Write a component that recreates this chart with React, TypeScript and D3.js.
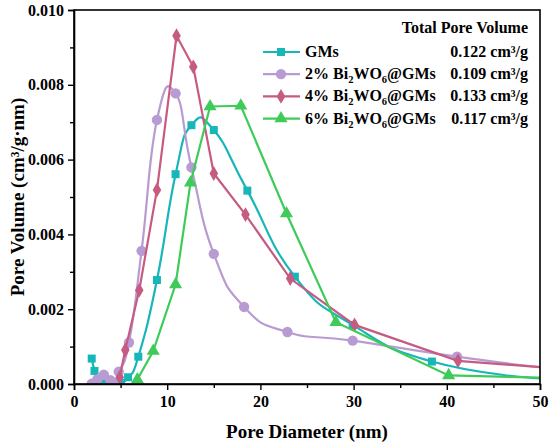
import React, { useEffect, useRef } from "react";
import * as d3 from "d3";

// pore diameter (nm) / pore volume (cm3/g·nm)
const gmsX = [1.9, 2.2, 2.5, 3.3, 4.2, 5.0, 5.8, 6.9, 8.9, 10.9, 12.6, 15.0, 18.6, 23.7, 29.9, 38.4, 50];
const gmsY = [0.00068, 0.00035, 0.00008, 0.00002, 0.00001, 0.00003, 0.00018, 0.00073, 0.00278, 0.00561, 0.00692, 0.00679, 0.00517, 0.00287, 0.00158, 0.0006, 0.00015];

const bi2X = [1.9, 2.5, 3.2, 3.9, 4.4, 4.8, 5.9, 7.25, 8.9, 10.9, 12.6, 15.0, 18.25, 22.9, 29.9, 41.1, 50];
const bi2Y = [0.00001, 0.00012, 0.00025, 0.0001, 0.00003, 0.00033, 0.00111, 0.00356, 0.00706, 0.00777, 0.00579, 0.00348, 0.00206, 0.00139, 0.00116, 0.00073, 0.00045];

const bi4X = [4.9, 5.5, 7.0, 8.9, 11.0, 12.8, 15.0, 18.4, 23.2, 30.1, 41.2, 50];
const bi4Y = [0.00018, 0.00091, 0.00251, 0.00519, 0.00931, 0.00848, 0.00563, 0.00453, 0.00282, 0.00158, 0.00062, 0.00045];

const bi6X = [6.8, 8.5, 10.9, 12.5, 14.6, 17.9, 22.8, 28.1, 40.2, 50];
const bi6Y = [0.00012, 0.00088, 0.00266, 0.00538, 0.00742, 0.00744, 0.00456, 0.00165, 0.00023, 0.00017];

const seriesNames = ["GMs", "2%", "4%", "6%"];
const totalVolumes = ["0.122 cm³/g", "0.109 cm³/g", "0.133 cm³/g", "0.117 cm³/g"];
const xTicks = [0, 10, 20, 30, 40, 50];
const yTicks = [0, 0.002, 0.004, 0.006, 0.008, 0.01];

const series = [
  { name: seriesNames[0], xs: gmsX, ys: gmsY, color: "#17b6b9", marker: "square", smooth: true },
  { name: seriesNames[1], xs: bi2X, ys: bi2Y, color: "#b89bd2", marker: "circle", smooth: true },
  { name: seriesNames[2], xs: bi4X, ys: bi4Y, color: "#c65b82", marker: "diamond", smooth: false },
  { name: seriesNames[3], xs: bi6X, ys: bi6Y, color: "#3ecb59", marker: "triangle", smooth: false },
];

const W = 550;
const H = 448;
const FONT = "'Liberation Serif', 'Times New Roman', serif";

function symbolFor(kind: string) {
  if (kind === "square") return d3.symbol(d3.symbolSquare, 64);
  if (kind === "circle") return d3.symbol(d3.symbolCircle, 84);
  if (kind === "diamond") return d3.symbol(d3.symbolDiamond, 64);
  return d3.symbol(d3.symbolTriangle, 74);
}

const App: React.FC = () => {
  const svgRef = useRef<SVGSVGElement | null>(null);

  useEffect(() => {
    const svg = d3.select(svgRef.current);
    svg.selectAll("*").remove();

    const margin = { top: 10, right: 10, bottom: 64, left: 74 };
    const innerWidth = W - margin.left - margin.right;
    const innerHeight = H - margin.top - margin.bottom;

    const x = d3.scaleLinear().domain([0, 50]).range([0, innerWidth]);
    const y = d3.scaleLinear().domain([0, 0.01]).range([innerHeight, 0]);

    svg.append("rect").attr("width", W).attr("height", H).attr("fill", "#fff");

    const chart = svg
      .append("g")
      .attr("transform", `translate(${margin.left},${margin.top})`);

    chart
      .append("clipPath")
      .attr("id", "plot-clip")
      .append("rect")
      .attr("width", innerWidth)
      .attr("height", innerHeight);

    const plot = chart.append("g").attr("clip-path", "url(#plot-clip)");

    series.forEach(s => {
      const pts = s.xs.map((v, i) => [v, s.ys[i]] as [number, number]);
      const line = d3
        .line<[number, number]>()
        .x(d => x(d[0]))
        .y(d => y(d[1]))
        .curve(s.smooth ? d3.curveCardinal.tension(-0.5) : d3.curveLinear);
      plot
        .append("path")
        .attr("d", line(pts))
        .attr("fill", "none")
        .attr("stroke", s.color)
        .attr("stroke-width", 2.2);
      plot
        .selectAll(null)
        .data(pts.filter(d => d[0] < 50))
        .join("path")
        .attr("d", symbolFor(s.marker)())
        .attr("transform", d => `translate(${x(d[0])},${y(d[1])})`)
        .attr("fill", s.color);
    });

    // frame
    chart
      .append("rect")
      .attr("width", innerWidth)
      .attr("height", innerHeight)
      .attr("fill", "none")
      .attr("stroke", "#000")
      .attr("stroke-width", 1.6);

    // X axis
    const xAxis = chart
      .append("g")
      .attr("transform", `translate(0,${innerHeight})`)
      .call(d3.axisBottom(x).tickValues(xTicks).tickSize(6).tickPadding(6).tickFormat(d3.format("d")));
    chart
      .append("g")
      .attr("transform", `translate(0,${innerHeight})`)
      .call(d3.axisBottom(x).tickValues(d3.range(5, 50, 10)).tickSize(4).tickFormat(() => ""))
      .select(".domain")
      .remove();

    // Y axis
    const yAxis = chart
      .append("g")
      .call(d3.axisLeft(y).tickValues(yTicks).tickSize(6).tickPadding(4).tickFormat(d3.format(".3f")));
    chart
      .append("g")
      .call(d3.axisLeft(y).tickValues(d3.range(0.001, 0.01, 0.002)).tickSize(4).tickFormat(() => ""))
      .select(".domain")
      .remove();

    [xAxis, yAxis].forEach(a => {
      a.select(".domain").attr("stroke-width", 1.6);
      a.selectAll(".tick text")
        .attr("font-family", FONT)
        .attr("font-weight", "bold")
        .attr("font-size", 16)
        .attr("fill", "#000");
    });
    chart.selectAll(".tick line").attr("stroke-width", 1.4);

    svg
      .append("text")
      .attr("x", margin.left + innerWidth / 2)
      .attr("y", 438)
      .attr("text-anchor", "middle")
      .attr("font-family", FONT)
      .attr("font-weight", "bold")
      .attr("font-size", 19)
      .text("Pore Diameter (nm)");

    svg
      .append("text")
      .attr("transform", `translate(24,${margin.top + innerHeight / 2}) rotate(-90)`)
      .attr("text-anchor", "middle")
      .attr("font-family", FONT)
      .attr("font-weight", "bold")
      .attr("font-size", 19)
      .text("Pore Volume (cm³/g·nm)");

    // Legend
    const legend = svg.append("g").attr("font-family", FONT).attr("font-weight", "bold").attr("font-size", 16);
    legend
      .append("text")
      .attr("x", 528)
      .attr("y", 33)
      .attr("text-anchor", "end")
      .text("Total Pore Volume");

    series.forEach((s, i) => {
      const g = legend.append("g").attr("transform", `translate(0,${52 + i * 22.2})`);
      g.append("line")
        .attr("x1", 263)
        .attr("x2", 300)
        .attr("stroke", s.color)
        .attr("stroke-width", 2.2);
      g.append("path")
        .attr("d", symbolFor(s.marker)())
        .attr("transform", "translate(281,0)")
        .attr("fill", s.color);
      const t = g.append("text").attr("x", 305).attr("y", 5);
      if (i === 0) {
        t.text(s.name);
      } else {
        t.append("tspan").text(`${s.name} Bi`);
        t.append("tspan").attr("font-size", 10.5).attr("dy", 4).text("2");
        t.append("tspan").attr("dy", -4).text("WO");
        t.append("tspan").attr("font-size", 10.5).attr("dy", 4).text("6");
        t.append("tspan").attr("dy", -4).text("@GMs");
      }
      g.append("text")
        .attr("x", 528)
        .attr("y", 5)
        .attr("text-anchor", "end")
        .text(totalVolumes[i]);
    });
  }, []);

  return (
    <svg
      ref={svgRef}
      width={W}
      height={H}
      style={{ position: "absolute", left: 0, top: 0 }}
    ></svg>
  );
};

export default App;
